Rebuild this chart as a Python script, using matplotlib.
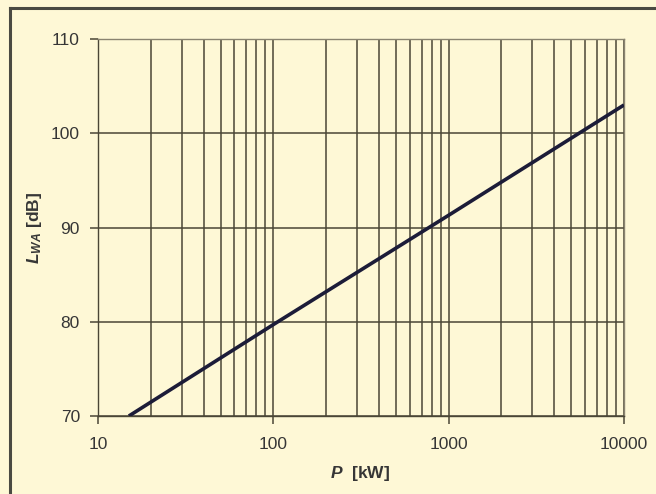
import matplotlib
matplotlib.use("Agg")
import matplotlib.pyplot as plt
from matplotlib.ticker import LogLocator, FixedLocator, NullFormatter
from matplotlib.lines import Line2D

plt.rcParams['font.family'] = ['Liberation Sans', 'DejaVu Sans']
plt.rcParams['mathtext.fontset'] = 'custom'
plt.rcParams['mathtext.rm'] = 'Liberation Sans'
plt.rcParams['mathtext.it'] = 'Liberation Sans:italic'
plt.rcParams['mathtext.bf'] = 'Liberation Sans:bold'
plt.rcParams['mathtext.bfit'] = 'Liberation Sans:italic:bold'

# Sound power level versus rated power
power_kw = [15, 100, 1000, 10000]
level_db = [70, 79.7, 91.3, 103]

x_ticks = [10, 100, 1000, 10000]
x_tick_labels = ['10', '100', '1000', '10000']
y_ticks = [70, 80, 90, 100, 110]

bg = '#FEF8D6'
grid_c = '#4a4636'
text_c = '#363636'

fig = plt.figure(figsize=(6.56, 4.94), dpi=100, facecolor=bg)
W, H = 656, 494
ax = fig.add_axes([98 / W, 1 - 416 / H, (624 - 98) / W, (416 - 39) / H])
ax.set_facecolor(bg)

ax.set_xscale('log')
ax.set_xlim(10, 10000)
ax.set_ylim(70, 110)

ax.xaxis.set_major_locator(FixedLocator(x_ticks))
ax.set_xticklabels(x_tick_labels)
ax.xaxis.set_minor_locator(LogLocator(base=10, subs=range(2, 10)))
ax.xaxis.set_minor_formatter(NullFormatter())
ax.set_yticks(y_ticks)

ax.grid(True, which='both', axis='x', color=grid_c, linewidth=1.1)
ax.grid(True, which='major', axis='y', color=grid_c, linewidth=1.1)
ax.set_axisbelow(True)

ax.plot(power_kw, level_db, color='#1c1c38', linewidth=2.6, solid_capstyle='butt', zorder=3)

for s in ax.spines.values():
    s.set_color('#8a8470')
    s.set_linewidth(1.0)
ax.spines['left'].set_color(grid_c)
ax.spines['bottom'].set_color(grid_c)

ax.tick_params(axis='both', which='major', direction='out', length=6, width=1.1,
               color=grid_c, labelsize=12.5, labelcolor=text_c)
ax.tick_params(axis='x', which='minor', length=0)
ax.tick_params(axis='x', which='major', pad=9)
ax.tick_params(axis='y', which='major', pad=7)

# Axis titles
fig.text(360 / W, 1 - 473 / H, r'$\mathbfit{P}$  [kW]', fontsize=12.5, fontweight='bold',
         color=text_c, ha='center', va='center')
fig.text(34 / W, 1 - 228 / H, r'$\mathbfit{L}_{\mathbfit{WA}}$ [dB]', fontsize=12.5,
         fontweight='bold', color=text_c, ha='center', va='center', rotation=90)

# Frame lines along the left and top of the panel
fig.add_artist(Line2D([10 / W, 10 / W], [0, 1 - 8 / H], transform=fig.transFigure,
                      color='#4a4a42', linewidth=2.2))
fig.add_artist(Line2D([10 / W, 1], [1 - 8 / H, 1 - 8 / H], transform=fig.transFigure,
                      color='#4a4a42', linewidth=2.2))

fig.savefig('out.png', dpi=100, facecolor=bg)
